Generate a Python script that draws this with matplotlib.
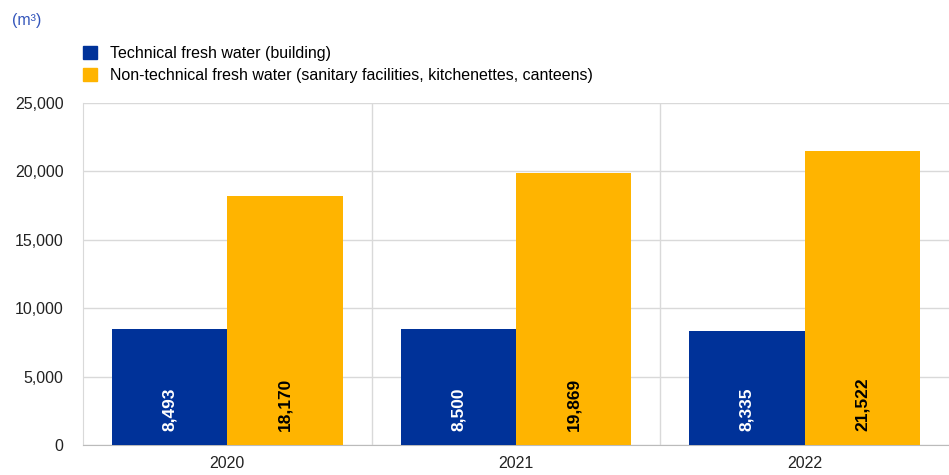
import numpy as np
import matplotlib.pyplot as plt
from matplotlib.patches import Patch
from matplotlib.transforms import offset_copy

plt.rcParams['font.family'] = ['Liberation Sans', 'DejaVu Sans']

years = ['2020', '2021', '2022']
technical = [8493, 8500, 8335]
non_technical = [18170, 19869, 21522]
labels = ['Technical fresh water (building)',
          'Non-technical fresh water (sanitary facilities, kitchenettes, canteens)']

blue = '#003299'
orange = '#FFB400'
grid_col = '#D9D9D9'

fig = plt.figure(figsize=(9.49, 4.75), dpi=100)
ax = fig.add_axes([83 / 949, 1 - 445 / 475, 1 - 83 / 949, (445 - 103) / 475])

x = np.arange(len(years))
w = 0.4
ax.bar(x - w / 2, technical, w, color=blue, zorder=3)
ax.bar(x + w / 2, non_technical, w, color=orange, zorder=3)

ax.set_xlim(-0.5, 2.5)
ax.set_ylim(0, 25000)
ax.set_yticks(np.arange(0, 25001, 5000))
ax.set_yticklabels([f'{v:,}' for v in range(0, 25001, 5000)])
ax.set_xticks(x)
ax.set_xticklabels(years)
ax.set_xticks([0.5, 1.5], minor=True)
ax.tick_params(axis='both', which='both', length=0, labelsize=11.5, colors='#222222')
ax.tick_params(axis='y', pad=14)
ax.tick_params(axis='x', pad=8)
ax.grid(axis='y', which='major', color=grid_col, lw=1, zorder=0)
ax.grid(axis='x', which='minor', color=grid_col, lw=1, zorder=0)

for s in ['top', 'right']:
    ax.spines[s].set_visible(False)
ax.spines['left'].set_color(grid_col)
ax.spines['bottom'].set_color('#BBBBBB')

trans = offset_copy(ax.transData, fig=fig, x=0, y=14, units='dots')
for xi, v in zip(x - w / 2, technical):
    ax.text(xi, 0, f'{v:,}', rotation=90, ha='center', va='bottom', color='white',
            fontsize=12.5, fontweight='bold', transform=trans, zorder=4)
for xi, v in zip(x + w / 2, non_technical):
    ax.text(xi, 0, f'{v:,}', rotation=90, ha='center', va='bottom', color='black',
            fontsize=12.5, fontweight='bold', transform=trans, zorder=4)

handles = [Patch(color=blue), Patch(color=orange)]
fig.legend(handles, labels, loc='upper left', bbox_to_anchor=(83 / 949, 1 - 46 / 475),
           frameon=False, fontsize=11.5, handlelength=0.85, handleheight=0.85,
           handletextpad=0.85, labelspacing=0.42, borderaxespad=0, borderpad=0)

fig.text(12 / 949, 1 - 20 / 475, '(m³)', color='#3355BB', fontsize=11.5, va='center', ha='left')

fig.savefig('out.png', dpi=100)
